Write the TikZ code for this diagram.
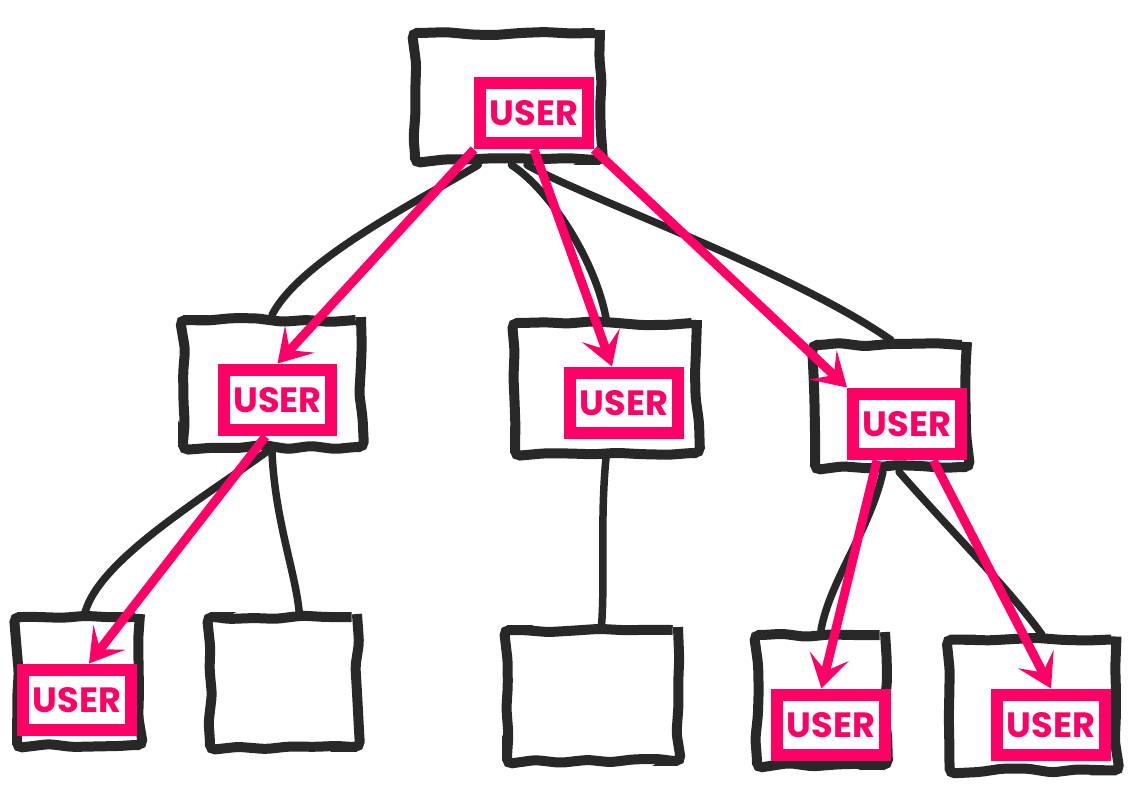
\documentclass[tikz,border=0pt]{standalone}
\usepackage{fontspec}
\newfontfamily\userfont{Poppins}
\usetikzlibrary{arrows.meta,calc,decorations.pathmorphing}
\definecolor{ink}{HTML}{282828}
\definecolor{hot}{HTML}{FF0066}
\tikzset{
 box/.style={draw=ink, line width=0.2cm, decorate, decoration={random steps, segment length=14pt, amplitude=1.2pt}, rounded corners=3pt, inner sep=0pt},
 link/.style={draw=ink, line width=0.15cm, line cap=round},
 user/.style={draw=hot, fill=white, line width=0.24cm, minimum width=2.16cm, minimum height=1.22cm, inner sep=0pt, text=hot, font=\userfont\bfseries\fontsize{20}{24}\selectfont},
 uarrow/.style={draw=hot, line width=0.18cm, -{Stealth[length=0.66cm,width=0.8cm,inset=0.3cm]}}
}
\begin{document}
\begin{tikzpicture}[x=0.02cm,y=-0.02cm]
\pgfmathsetseed{7}
\fill[white] (0,0) rectangle (1139,800);
\useasboundingbox (0,0) rectangle (1139,800);
% black boxes
\node[box, minimum width=3.70cm, minimum height=2.54cm] (root) at (507.5,96.5) {};
\node[box, minimum width=3.56cm, minimum height=2.54cm] (l2a) at (272,383.5) {};
\node[box, minimum width=3.64cm, minimum height=2.60cm] (l2b) at (606,388) {};
\node[box, minimum width=3.04cm, minimum height=2.44cm] (l2c) at (891,406) {};
\node[box, minimum width=2.46cm, minimum height=2.56cm] (f1) at (78.5,681) {};
\node[box, minimum width=2.94cm, minimum height=2.60cm] (f2) at (283.5,682) {};
\node[box, minimum width=3.42cm, minimum height=2.62cm] (f3) at (592.5,695.5) {};
\node[box, minimum width=2.56cm, minimum height=2.60cm] (f4) at (821,700) {};
\node[box, minimum width=3.34cm, minimum height=2.62cm] (f5) at (1033,705) {};
% black tree edges
\draw[link] ($(root.south west)!0.35!(root.south east)$) .. controls (420,200) and (300,260) .. ($(l2a.north west)!0.5!(l2a.north east)$);
\draw[link] ($(root.south west)!0.52!(root.south east)$) .. controls (550,190) and (595,260) .. ($(l2b.north west)!0.5!(l2b.north east)$);
\draw[link] ($(root.south west)!0.6!(root.south east)$) .. controls (590,200) and (790,270) .. ($(l2c.north west)!0.5!(l2c.north east)$);
\draw[link] ($(l2a.south west)!0.47!(l2a.south east)$) .. controls (200,500) and (100,560) .. ($(f1.north west)!0.55!(f1.north east)$);
\draw[link] ($(l2a.south west)!0.5!(l2a.south east)$) .. controls (275,520) and (295,570) .. ($(f2.north west)!0.6!(f2.north east)$);
\draw[link] ($(l2b.south west)!0.5!(l2b.south east)$) .. controls (600,520) and (605,580) .. ($(f3.north west)!0.55!(f3.north east)$);
\draw[link] ($(l2c.south west)!0.45!(l2c.south east)$) .. controls (870,530) and (830,580) .. ($(f4.north west)!0.5!(f4.north east)$);
\draw[link] ($(l2c.south west)!0.55!(l2c.south east)$) .. controls (950,530) and (1010,590) .. ($(f5.north west)!0.55!(f5.north east)$);
% user boxes
\node[user] (ru) at (534,113) {USER};
\node[user] (lu) at (277.5,400) {USER};
\node[user] (mu) at (624,403) {USER};
\node[user] (rtu) at (907,424) {USER};
\node[user] (l1u) at (77,700) {USER};
\node[user] (l4u) at (831,725) {USER};
\node[user] (l5u) at (1051,725) {USER};
% pink arrows
\draw[uarrow] (ru.south west) -- (lu.north);
\draw[uarrow] (ru.south) -- ($(mu.north west)!0.4!(mu.north east)$);
\draw[uarrow] (ru.south east) -- (rtu.north west);
\draw[uarrow] ($(lu.south west)!0.4!(lu.south east)$) -- ($(l1u.north west)!0.6!(l1u.north east)$);
\draw[uarrow] ($(rtu.south west)!0.25!(rtu.south east)$) -- ($(l4u.north west)!0.42!(l4u.north east)$);
\draw[uarrow] ($(rtu.south west)!0.72!(rtu.south east)$) -- (l5u.north);
\end{tikzpicture}
\end{document}
